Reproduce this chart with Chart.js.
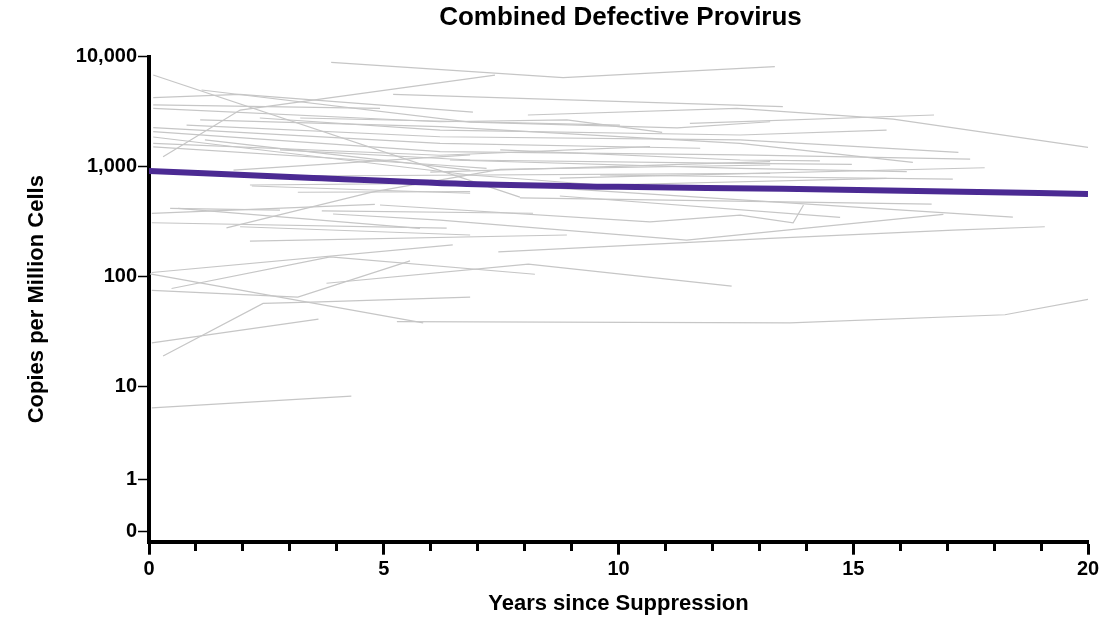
<!DOCTYPE html>
<html>
<head>
<meta charset="utf-8">
<script src="https://cdn.jsdelivr.net/npm/chart.js@4.4.1/dist/chart.umd.min.js"></script>
<style>
  html, body { margin: 0; padding: 0; background: #ffffff; }
  canvas { display: block; }
</style>
</head>
<body>
<canvas id="chart" width="1115" height="617"></canvas>
<script>
const titleText = 'Combined Defective Provirus';
const xAxisTitle = 'Years since Suppression';
const yAxisTitle = 'Copies per Million Cells';

const yTickValues = [0, 1, 10, 100, 1000, 10000];
const yTickLabels = ['0', '1', '10', '100', '1,000', '10,000'];
const xLabelledYears = [0, 5, 10, 15, 20];

// one entry per participant: sampling times (years) and copies per million cells
const subjectYears = [
  [0.06, 4.31],
  [0.06, 3.61],
  [0.3, 2.43, 3.64, 6.84],
  [0.06, 3.17, 5.56],
  [0.06, 6.47],
  [0.48, 3.86, 8.22],
  [0.02, 5.84],
  [5.28, 13.65, 18.23, 20],
  [3.78, 8.08, 12.41],
  [2.15, 8.9],
  [7.44, 13.23, 17.13, 19.08],
  [3.92, 6.2, 11.45, 16.92],
  [5.99, 18.4],
  [7.9, 16.67],
  [8.75, 14.72],
  [4.92, 10.67, 12.59, 13.72, 13.94],
  [9.61, 17.12],
  [8.75, 15.71],
  [8.75, 17.8],
  [6.41, 12.59, 16.14],
  [6.62, 12.59, 14.97],
  [7.48, 12.59, 14.29],
  [0.09, 6.2, 12.59, 17.49],
  [1.09, 6.2, 12.59, 16.27],
  [0.8, 6.2, 12.59, 17.24],
  [2.36, 6.2, 12.59, 15.71],
  [11.52, 16.72],
  [8.07, 12.52, 15.85, 20],
  [5.2, 13.5],
  [3.88, 8.82, 13.33],
  [0.3, 1.94, 7.37],
  [0.09, 7.9],
  [0.09, 1.94, 6.9],
  [0.09, 4.92],
  [0.09, 6.2, 8.9, 10.93],
  [1.12, 6.84, 11.25, 13.23],
  [0.09, 6.2, 11.74],
  [0.09, 6.2, 10.67],
  [0.09, 6.2, 7.19],
  [1.8, 6.84],
  [2.15, 6.84],
  [3.17, 6.84],
  [2.19, 6.84],
  [0.06, 4.81],
  [0.45, 2.79],
  [0.62, 5.77],
  [0.06, 6.34],
  [1.94, 6.84],
  [3.68, 8.18],
  [1.65, 4.77, 7.48, 13.23],
  [3.22, 13.23],
  [5.99, 13.23],
  [1.19, 6.84],
  [0.09, 6.84, 9.61],
  [2.79, 6.84],
  [3.22, 10.03]
];
const subjectCopies = [
  [5.9, 7.9],
  [25, 41],
  [19, 57, 59, 65],
  [75, 65, 139],
  [109, 194],
  [78, 151, 105],
  [106, 38],
  [39, 38, 45, 62],
  [87, 130, 82],
  [210, 239],
  [168, 223, 265, 284],
  [371, 327, 215, 368],
  [755, 348],
  [519, 457],
  [541, 346],
  [448, 315, 363, 309, 448],
  [840, 771],
  [667, 783],
  [787, 977],
  [1150, 966, 900],
  [1150, 1072, 1049],
  [1420, 1150, 1130],
  [2080, 1370, 1280, 1172],
  [2660, 2310, 1630, 1094],
  [2390, 1870, 1750, 1350],
  [2770, 2150, 1940, 2150],
  [2480, 2950],
  [2950, 3390, 2710, 1500],
  [4550, 3510],
  [8890, 6440, 8110],
  [1230, 3270, 6810],
  [6810, 528],
  [4240, 4550, 3130],
  [3640, 3390],
  [3390, 2560, 2660, 2050],
  [4980, 2540, 2250, 2560],
  [2260, 1630, 1470],
  [1630, 1270, 1520],
  [1510, 1035, 966],
  [930, 1280],
  [681, 707],
  [585, 594],
  [667, 573],
  [376, 454],
  [418, 403],
  [418, 275],
  [309, 276],
  [284, 239],
  [396, 377],
  [277, 590, 944, 1035],
  [822, 869],
  [893, 1110],
  [1750, 931],
  [1860, 840, 681],
  [1420, 1150],
  [2770, 2390]
];

// fitted population trend
const trendYears = [0, 3.5, 7, 10, 13.5, 17, 20];
const trendCopies = [915, 790, 690, 655, 628, 595, 565];

// Axis position: plain log10 from 10 upward, a shorter 1–10 decade, and a separate step for 0
const LOW_DECADE = 0.843;
const ZERO_POS = -0.318;
const AXIS_MIN = -0.411;
const AXIS_MAX = 4;
function axisPos(v) {
  if (v <= 0) return ZERO_POS;
  if (v >= 10) return Math.log10(v);
  return 1 - (1 - Math.log10(v)) * LOW_DECADE;
}

const FONT = '"Liberation Sans", Arial, Helvetica, sans-serif';

const datasets = [{
  label: 'Trend',
  data: trendYears.map((x, i) => ({ x: x, y: axisPos(trendCopies[i]) })),
  borderColor: '#4b2a93',
  borderWidth: 6,
  borderCapStyle: 'butt',
  cubicInterpolationMode: 'monotone',
  pointRadius: 0,
  showLine: true,
  order: 0
}];
subjectYears.forEach((yrs, k) => {
  datasets.push({
    label: 'Participant ' + (k + 1),
    data: yrs.map((x, i) => ({ x: x, y: axisPos(subjectCopies[k][i]) })),
    borderColor: '#c6c6c6',
    borderWidth: 1.2,
    tension: 0,
    pointRadius: 0,
    showLine: true,
    order: 1
  });
});

const centerTitle = {
  id: 'centerTitle',
  afterDraw(chart) {
    const { ctx, chartArea } = chart;
    ctx.save();
    ctx.font = 'bold 26px ' + FONT;
    ctx.fillStyle = '#000';
    ctx.textAlign = 'center';
    ctx.textBaseline = 'middle';
    ctx.fillText(titleText, (chartArea.left + chartArea.right) / 2 + 2, 18);
    ctx.restore();
  }
};

new Chart(document.getElementById('chart'), {
  type: 'scatter',
  data: { datasets: datasets },
  plugins: [centerTitle],
  options: {
    responsive: false,
    animation: false,
    layout: { padding: { top: 56.7, right: 27, bottom: 0, left: 0 } },
    plugins: { legend: { display: false }, tooltip: { enabled: false }, title: { display: false } },
    scales: {
      x: {
        type: 'linear',
        min: 0,
        max: 20,
        afterFit(scale) { scale.height = 75.3; },
        border: { display: true, color: '#000', width: 4 },
        grid: {
          display: true,
          drawOnChartArea: false,
          drawTicks: true,
          tickLength: 13,
          tickColor: '#000',
          tickWidth: 3,
          // unlabelled yearly ticks are drawn shorter than the labelled ones
          tickBorderDash: (ctx) => (ctx.tick && xLabelledYears.includes(ctx.tick.value)) ? [] : [7, 40]
        },
        ticks: {
          stepSize: 1,
          autoSkip: false,
          maxRotation: 0,
          padding: 3,
          color: '#000',
          font: { family: FONT, size: 20, weight: 'bold' },
          callback: (v) => xLabelledYears.includes(v) ? String(v) : ''
        },
        title: {
          display: true,
          text: xAxisTitle,
          color: '#000',
          font: { family: FONT, size: 22, weight: 'bold' },
          padding: { top: 0, bottom: 0 }
        }
      },
      y: {
        type: 'linear',
        min: AXIS_MIN,
        max: AXIS_MAX,
        afterFit(scale) { scale.width = 149; },
        afterBuildTicks(scale) { scale.ticks = yTickValues.map(v => ({ value: axisPos(v) })); },
        border: { display: true, color: '#000', width: 4 },
        grid: { display: true, drawOnChartArea: false, drawTicks: true, tickLength: 11, tickColor: '#000', tickWidth: 1.5 },
        ticks: {
          padding: 1,
          color: '#000',
          font: { family: FONT, size: 20, weight: 'bold' },
          callback: (v, i) => yTickLabels[i]
        },
        title: {
          display: true,
          text: yAxisTitle,
          color: '#000',
          font: { family: FONT, size: 22, weight: 'bold' },
          padding: { top: 24, bottom: 0 }
        }
      }
    }
  }
});
</script>
</body>
</html>
